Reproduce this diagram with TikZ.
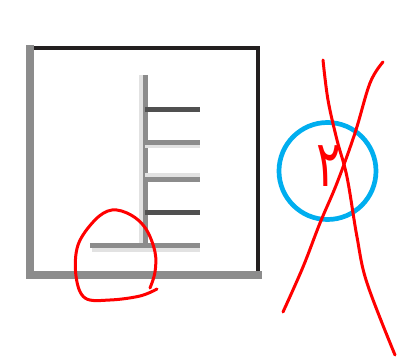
\documentclass[tikz,border=0pt]{standalone}
\usepackage{fontspec}
\usepackage{graphicx}
\newfontfamily\arabicfont[Script=Arabic]{DejaVu Sans}
\TeXXeTstate=1
\definecolor{edgegray}{RGB}{140,140,140}
\definecolor{edgeblack}{RGB}{35,31,32}
\definecolor{rungdark}{RGB}{80,80,80}
\definecolor{rungmid}{RGB}{140,140,140}
\definecolor{rungshade}{RGB}{226,226,226}
\definecolor{inkred}{RGB}{255,0,0}
\definecolor{ringblue}{RGB}{0,174,239}

\begin{document}
\begin{tikzpicture}[
  x=1pt,y=-1pt,
  grayedge/.style={draw=edgegray,line width=8pt},
  blackedge/.style={draw=edgeblack,line width=4.5pt},
  rung/.style={line width=4.5pt},
  shade/.style={draw=rungshade,line width=4pt},
  scrawl/.style={draw=inkred,line width=3pt,line cap=round,line join=round}
]
\useasboundingbox (0,0) rectangle (397,361);

% frame
\draw[blackedge] (29,48) -- (258,48) -- (258,276);
\draw[grayedge] (30,45) -- (30,279);
\draw[grayedge] (26,275) -- (262,275);

% ladder
\draw[shade] (140.5,75) -- (140.5,252);
\draw[draw=rungmid,line width=5pt] (145,75) -- (145,252);
\draw[shade] (145,146.5) -- (200,146.5);
\draw[shade] (145,175.5) -- (200,175.5);
\draw[shade] (92,249.5) -- (200,249.5);
\draw[rung,draw=rungdark] (145,109.5) -- (200,109.5);
\draw[rung,draw=rungmid] (145,142.5) -- (200,142.5);
\draw[rung,draw=rungmid] (145,179.5) -- (200,179.5);
\draw[rung,draw=rungdark] (145,212.5) -- (200,212.5);
\draw[rung,draw=rungmid] (90,245.5) -- (200,245.5);

% loop around the foot
\draw[scrawl] plot[smooth,tension=0.6] coordinates {(157,289) (140,296) (110,300) (85,298) (76,276) (78,245) (95,220) (112,210) (131,215) (146,229) (155,252) (155,272) (150,288)};

% ring with digit
\node[circle,draw=ringblue,line width=4.7pt,minimum size=97pt,inner sep=0pt] (ring) at (327.5,171) {};
\node[text=inkred,font=\arabicfont\fontsize{46}{46}\selectfont,inner sep=0pt] (digit) at (329,166) {\scalebox{1}[1.4]{\beginR ٢\endR}};

% crossing strokes
\draw[scrawl] plot[smooth,tension=0.6] coordinates {(323,60) (328,100) (337,140) (347,177) (357,237) (367,283) (395,355)};
\draw[scrawl] plot[smooth,tension=0.6] coordinates {(383,62) (370,83) (355,133) (337,183) (320,223) (303,267) (283,312)};
\end{tikzpicture}
\end{document}
